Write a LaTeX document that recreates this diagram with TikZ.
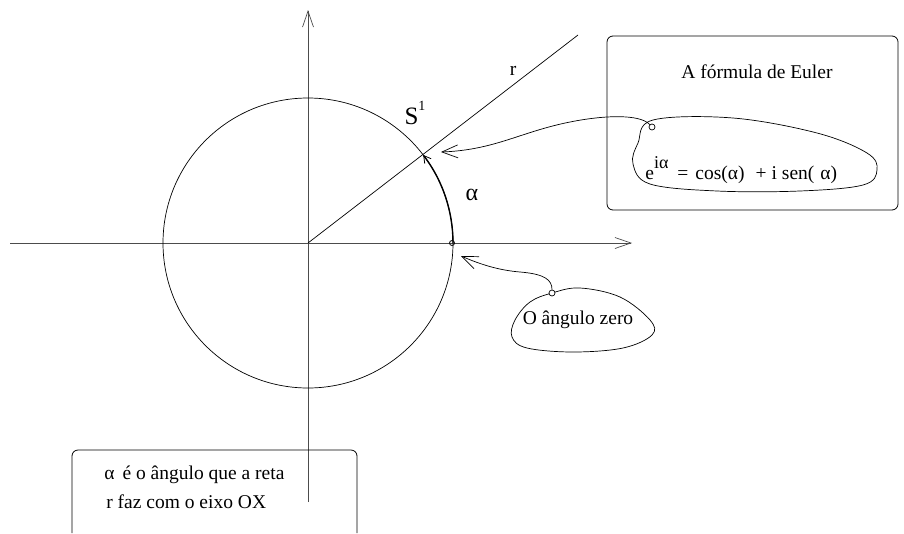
\documentclass[tikz,border=0pt]{standalone}
\usepackage{fontspec}
\setmainfont{Liberation Serif}
\usetikzlibrary{arrows.meta}
\begin{document}
\begin{tikzpicture}[x=1pt,y=-1pt,line width=0.7pt,
  axisarrow/.style={-{Straight Barb[length=16pt,width=11pt,line width=0.7pt]}},
  callarrow/.style={-{Straight Barb[length=16pt,width=13pt,line width=0.7pt]}},
  txt/.style={inner sep=0pt,font=\fontsize{19.5}{23}\selectfont},
  roundbox/.style={draw,rounded corners=6pt,line width=0.8pt}]
\useasboundingbox (0,0) rectangle (904,533);
% axes
\coordinate (O) at (308,243);
\coordinate (xl) at (10,243);
\coordinate (xr) at (632,243);
\coordinate (yb) at (308,502);
\coordinate (yt) at (308,10);
\draw[axisarrow,gray!60!black] (xl) -- (xr);
\draw[axisarrow,gray!60!black] (yb) -- (yt);
% circle
\draw[line width=0.7pt] (O) circle (145);
% ray r
\coordinate (rend) at (578,35);
\draw (O) -- (rend);
\node[txt] (rlab) at (513,71) {r};
% arc alpha
\draw[line width=1.4pt,-{Straight Barb[length=7pt,width=8pt,line width=0.8pt]}] (453,243) arc[start angle=0,end angle=-37.4,radius=145];
\node[circle,draw,inner sep=0pt,minimum size=5pt,line width=0.8pt] (zero) at (452,243) {};
\node[inner sep=0pt,font=\fontsize{25}{28}\selectfont] (S) at (415,113) {S\raisebox{0.55em}{\fontsize{14}{16}\selectfont 1}};
\node[inner sep=0pt,font=\fontsize{24}{28}\selectfont] (alpha) at (472,195) {α};
% Euler box
\draw[roundbox] (607,36) rectangle (898,210);
\node[txt] (title) at (757,72) {A fórmula de Euler};
\draw plot[smooth cycle,tension=0.6] coordinates {(653,120) (733,118) (817,133) (867,153) (877,170) (863,185) (800,191) (717,191) (650,184) (633,164) (638,143)};
\node[txt,anchor=west] (formula) at (645,170) {e\raisebox{0.6em}{\fontsize{18}{20}\selectfont iα}\kern9pt=\kern7pt cos(α)\kern11pt+\kern5pt i sen(\kern6pt α)};
\node[circle,draw,fill=white,inner sep=0pt,minimum size=6pt] (ehook) at (652,127) {};
\coordinate (etip) at (441,152);
\draw[callarrow] (ehook) .. controls (640,114) and (605,115) .. (570,122) .. controls (520,132) and (495,150) .. (etip);
% zero callout
\draw plot[smooth cycle,tension=0.6] coordinates {(552,293) (580,288) (620,297) (650,320) (652,335) (623,348) (573,352) (527,348) (512,337) (515,320) (530,302)};
\node[txt] (zerotext) at (578,320) {O ângulo zero};
\node[circle,draw,fill=white,inner sep=0pt,minimum size=6pt] (zhook) at (552,293) {};
\coordinate (ztip) at (461,256);
\draw[callarrow] (zhook) .. controls (552,280) and (545,274) .. (520,272) .. controls (495,270) and (475,262) .. (ztip);
% bottom box
\draw[roundbox] (72,533) -- (72,450) -- (357,450) -- (357,533);
\node[txt,anchor=west] (l1) at (104,475) {α\kern8pt é o ângulo que a reta};
\node[txt,anchor=west] (l2) at (106,502) {r faz com o eixo OX};
\end{tikzpicture}
\end{document}
